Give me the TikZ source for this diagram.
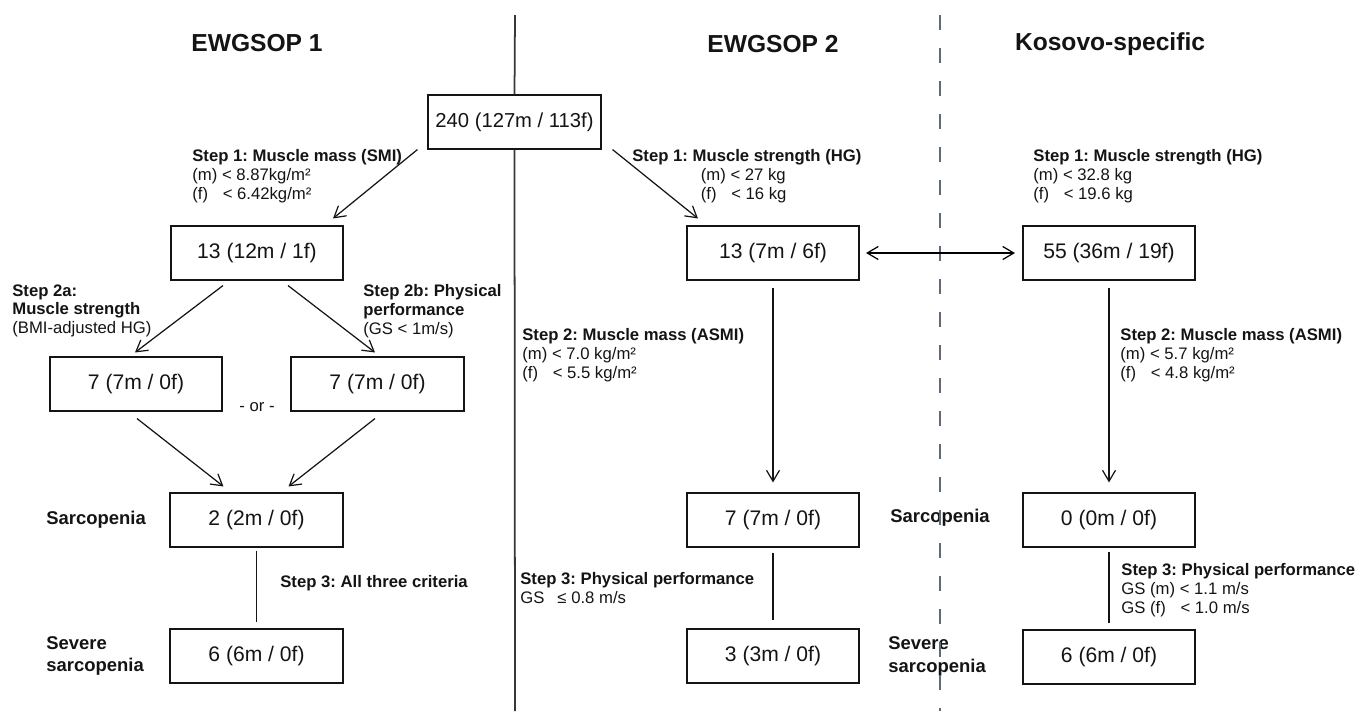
\documentclass[tikz,border=0pt]{standalone}
\usepackage{fontspec}
\setmainfont{Liberation Sans}
\usepackage{xcolor}
\usepackage{tikz}
\usetikzlibrary{arrows.meta, positioning, calc}
\definecolor{inkblack}{RGB}{20, 20, 20}
\definecolor{dividergrey}{RGB}{55, 55, 55}
\definecolor{dashslate}{RGB}{95, 105, 120}
\frenchspacing

\begin{document}
\begin{tikzpicture}[
    every node/.style={font=\fontsize{9.5}{10.8}\selectfont, text=inkblack},
    box/.style={rectangle, draw=inkblack, fill=white, line width=0.9pt, minimum width=3.45cm, minimum height=1.07cm, inner sep=0pt, font=\fontsize{12}{14}\selectfont},
    header/.style={font=\fontsize{14}{16}\selectfont\bfseries},
    steplabel/.style={align=left, anchor=north west, inner sep=0pt},
    grouplabel/.style={align=left, inner sep=0pt, font=\fontsize{10.5}{13}\selectfont\bfseries},
    arrow/.style={-{Straight Barb[length=2.2mm, width=2.6mm]}, line width=0.7pt, color=inkblack},
    link/.style={line width=0.7pt, color=inkblack}
]
\useasboundingbox (0, 0) rectangle (27.14, -14.22);

% Column headers
\node[header] (h1) at (5.14, -0.86) {EWGSOP 1};
\node[header] (h2) at (15.46, -0.88) {EWGSOP 2};
\node[header] (h3) at (22.20, -0.88) {Kosovo-specific};

% Row 1: whole cohort
\node[box, font=\fontsize{11.5}{14}\selectfont] (b240) at (10.29, -2.44) {240 (127m / 113f)};

% Row 2: after step 1
\node[box] (l13) at (5.14, -5.06) {13 (12m / 1f)};
\node[box] (m13) at (15.46, -5.06) {13 (7m / 6f)};
\node[box] (k55) at (22.18, -5.06) {55 (36m / 19f)};

% Row 3: EWGSOP 1 step 2a / 2b
\node[box] (l7a) at (2.72, -7.68) {7 (7m / 0f)};
\node[box] (l7b) at (7.55, -7.68) {7 (7m / 0f)};
\node (lor) at (5.14, -8.14) {- or -};

% Row 4: Sarcopenia
\node[box] (lsar) at (5.13, -10.40) {2 (2m / 0f)};
\node[box] (m7) at (15.46, -10.40) {7 (7m / 0f)};
\node[box] (k0) at (22.18, -10.40) {0 (0m / 0f)};

% Row 5: Severe sarcopenia
\node[box] (lsev) at (5.13, -13.12) {6 (6m / 0f)};
\node[box] (m3) at (15.46, -13.12) {3 (3m / 0f)};
\node[box] (k6) at (22.18, -13.14) {6 (6m / 0f)};

% Row labels
\node[grouplabel, anchor=west] (lsarlab) at (0.92, -10.40) {Sarcopenia};
\node[grouplabel, anchor=west] (lsevlab) at (0.92, -13.12) {Severe\\sarcopenia};
\node[grouplabel] (ksarlab) at (18.80, -10.36) {Sarcopenia};
\node[grouplabel, anchor=west] (ksevlab) at (17.76, -13.13) {Severe\\sarcopenia};

% Step criteria
\node[steplabel] (lstep1) at (3.84, -2.98) {\textbf{Step 1: Muscle mass (SMI)}\\(m) < 8.87kg/m²\\(f)\hspace{0.6em} < 6.42kg/m²};
\node[steplabel] (lstep2a) at (0.24, -5.68) {\textbf{Step 2a:}\\\textbf{Muscle strength}\\(BMI-adjusted HG)};
\node[steplabel] (lstep2b) at (7.26, -5.68) {\textbf{Step 2b: Physical}\\\textbf{performance}\\(GS < 1m/s)};
\node[anchor=west, inner sep=0pt] (lstep3) at (5.60, -11.66) {\textbf{Step 3: All three criteria}};

\node[steplabel] (mstep1) at (12.64, -2.98) {\textbf{Step 1: Muscle strength (HG)}\\\hspace*{39pt}(m) < 27 kg\\\hspace*{39pt}(f)\hspace{0.6em} < 16 kg};
\node[steplabel] (mstep2) at (10.44, -6.56) {\textbf{Step 2: Muscle mass (ASMI)}\\(m) < 7.0 kg/m²\\(f)\hspace{0.6em} < 5.5 kg/m²};
\node[steplabel] (mstep3) at (10.40, -11.44) {\textbf{Step 3: Physical performance}\\GS\hspace{0.5em} ≤ 0.8 m/s};

\node[steplabel] (kstep1) at (20.66, -2.98) {\textbf{Step 1: Muscle strength (HG)}\\(m) < 32.8 kg\\(f)\hspace{0.6em} < 19.6 kg};
\node[steplabel] (kstep2) at (22.40, -6.56) {\textbf{Step 2: Muscle mass (ASMI)}\\(m) < 5.7 kg/m²\\(f)\hspace{0.6em} < 4.8 kg/m²};
\node[steplabel] (kstep3) at (22.42, -11.26) {\textbf{Step 3: Physical performance}\\GS (m) < 1.1 m/s\\GS (f)\hspace{0.6em} < 1.0 m/s};

% Column dividers
\coordinate (divtop) at (10.30, -0.30);
\coordinate (divbot) at (10.30, -14.22);
\draw[line width=1pt, dividergrey] (divtop) -- (b240.north);
\draw[line width=1pt, dividergrey] (b240.south) -- (divbot);
\draw[line width=0.8pt, dashslate, dash pattern=on 0.3cm off 0.36cm] (18.80, -0.30) -- (18.80, -14.22);

% Arrows
\draw[arrow] ([xshift=-0.2cm]b240.south west) -- ([xshift=-0.22cm, yshift=0.14cm]l13.north east);
\draw[arrow] ([xshift=0.22cm]b240.south east) -- ([xshift=0.24cm, yshift=0.14cm]m13.north west);

% EWGSOP 1 branches
\draw[arrow] ([xshift=-0.68cm, yshift=-0.1cm]l13.south) -- ([xshift=-0.02cm, yshift=0.08cm]l7a.north);
\draw[arrow] ([xshift=0.62cm, yshift=-0.1cm]l13.south) -- ([xshift=-0.05cm, yshift=0.08cm]l7b.north);
\draw[arrow] ([xshift=0.02cm, yshift=-0.14cm]l7a.south) -- ([xshift=-0.66cm, yshift=0.12cm]lsar.north);
\draw[arrow] ([xshift=-0.05cm, yshift=-0.14cm]l7b.south) -- ([xshift=0.64cm, yshift=0.12cm]lsar.north);
\draw[link] ([yshift=-0.06cm]lsar.south) -- ([yshift=0.12cm]lsev.north);

% EWGSOP 2 and Kosovo chains
\draw[{Straight Barb[length=2.2mm, width=2.6mm]}-{Straight Barb[length=2.2mm, width=2.6mm]}, line width=0.7pt] ([xshift=0.12cm]m13.east) -- ([xshift=-0.14cm]k55.west);
\draw[arrow] ([yshift=-0.14cm]m13.south) -- ([yshift=0.2cm]m7.north);
\draw[arrow] ([yshift=-0.14cm]k55.south) -- ([yshift=0.2cm]k0.north);
\draw[link] ([yshift=-0.1cm]m7.south) -- ([yshift=0.16cm]m3.north);
\draw[link] ([yshift=-0.08cm]k0.south) -- ([yshift=0.12cm]k6.north);

\end{tikzpicture}
\end{document}
